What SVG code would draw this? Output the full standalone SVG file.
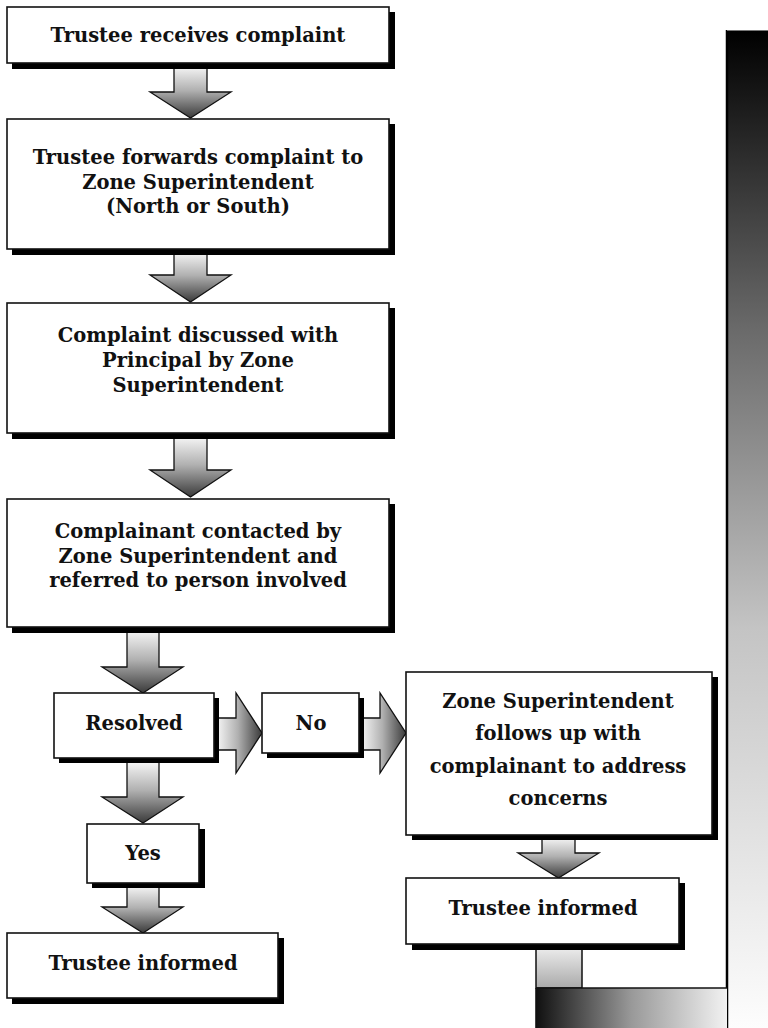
<svg xmlns="http://www.w3.org/2000/svg" width="768" height="1028" viewBox="0 0 768 1028">
<defs>
<linearGradient id="gDown" x1="0" y1="0" x2="0" y2="1">
<stop offset="0" stop-color="#ffffff"/>
<stop offset="0.5" stop-color="#b0b0b0"/>
<stop offset="1" stop-color="#3a3a3a"/>
</linearGradient>
<linearGradient id="gRight" x1="0" y1="0" x2="1" y2="0">
<stop offset="0" stop-color="#ffffff"/>
<stop offset="0.5" stop-color="#b0b0b0"/>
<stop offset="1" stop-color="#3a3a3a"/>
</linearGradient>
<linearGradient id="gBar" x1="0" y1="0" x2="0" y2="1">
<stop offset="0" stop-color="#000000"/>
<stop offset="0.3" stop-color="#6a6a6a"/>
<stop offset="0.6" stop-color="#c4c4c4"/>
<stop offset="1" stop-color="#fdfdfd"/>
</linearGradient>
<linearGradient id="gBottom" x1="0" y1="0" x2="1" y2="0">
<stop offset="0" stop-color="#101010"/>
<stop offset="0.5" stop-color="#999999"/>
<stop offset="1" stop-color="#f2f2f2"/>
</linearGradient>
<linearGradient id="gStub" x1="0" y1="0" x2="0" y2="1">
<stop offset="0" stop-color="#f2f2f2"/>
<stop offset="1" stop-color="#aaaaaa"/>
</linearGradient>
</defs>
<style>
.box{fill:#ffffff;stroke:#111111;stroke-width:1.6}
.shadow{fill:#000000}
.arrD{fill:url(#gDown);stroke:#111111;stroke-width:1.3;stroke-linejoin:miter}
.arrR{fill:url(#gRight);stroke:#111111;stroke-width:1.3;stroke-linejoin:miter}
.t{font-family:"DejaVu Serif","Liberation Serif",serif;font-weight:bold;font-size:19.5px;fill:#111111;text-anchor:middle}
</style>

<g id="decor">
<rect x="727" y="30" width="41" height="998" fill="url(#gBar)"/>
<line x1="727" y1="30" x2="727" y2="1028" stroke="#000" stroke-width="2.5"/>
<line x1="727" y1="30.5" x2="768" y2="30.5" stroke="#777" stroke-width="1"/>
<rect x="536" y="944" width="46" height="44" fill="url(#gStub)" stroke="#111" stroke-width="1.5"/>
<rect x="536" y="988" width="191" height="40" fill="url(#gBottom)"/>
<line x1="536" y1="988" x2="727" y2="988" stroke="#111" stroke-width="1.6"/>
<line x1="536" y1="988" x2="536" y2="1028" stroke="#111" stroke-width="1.6"/>
</g>

<g id="connectors">
<path class="arrD" d="M174,63 L207,63 L207,92 L231,92 L190.5,118 L150,92 L174,92 Z"/>
<path class="arrD" d="M174,249 L207,249 L207,275 L231,275 L190.5,302 L150,275 L174,275 Z"/>
<path class="arrD" d="M174,433 L207,433 L207,470 L231,470 L190.5,497 L150,470 L174,470 Z"/>
<path class="arrD" d="M127,627 L159,627 L159,667 L183,667 L143,693 L102,667 L127,667 Z"/>
<path class="arrD" d="M127,758 L159,758 L159,797 L183,797 L143,823 L102,797 L127,797 Z"/>
<path class="arrD" d="M127,883 L159,883 L159,907 L183,907 L143,933 L102,907 L127,907 Z"/>
<path class="arrD" d="M542,835 L575,835 L575,853 L599,853 L558.5,878 L518,853 L542,853 Z"/>
<path class="arrR" d="M214,718 L236,718 L236,693 L262,733 L236,773 L236,750 L214,750 Z"/>
<path class="arrR" d="M359,718 L380,718 L380,693 L406,733 L380,773 L380,750 L359,750 Z"/>
</g>

<g id="n1">
<rect class="shadow" x="12" y="12" width="383" height="57"/>
<rect class="box" x="7" y="7" width="382" height="56"/>
<text class="t" x="198" y="42">Trustee receives complaint</text>
</g>

<g id="n2">
<rect class="shadow" x="12" y="124" width="383" height="131"/>
<rect class="box" x="7" y="119" width="382" height="130"/>
<text class="t" x="198" y="164">Trustee forwards complaint to</text>
<text class="t" x="198" y="189">Zone Superintendent</text>
<text class="t" x="198" y="213">(North or South)</text>
</g>

<g id="n3">
<rect class="shadow" x="12" y="308" width="383" height="131"/>
<rect class="box" x="7" y="303" width="382" height="130"/>
<text class="t" x="198" y="342">Complaint discussed with</text>
<text class="t" x="198" y="367">Principal by Zone</text>
<text class="t" x="198" y="392">Superintendent</text>
</g>

<g id="n4">
<rect class="shadow" x="12" y="504" width="383" height="129"/>
<rect class="box" x="7" y="499" width="382" height="128"/>
<text class="t" x="198" y="538">Complainant contacted by</text>
<text class="t" x="198" y="563">Zone Superintendent and</text>
<text class="t" x="198" y="587">referred to person involved</text>
</g>

<g id="resolved">
<rect class="shadow" x="59" y="698" width="160" height="65"/>
<rect class="box" x="54" y="693" width="160" height="65"/>
<text class="t" x="134" y="730">Resolved</text>
</g>

<g id="no">
<rect class="shadow" x="267" y="698" width="97" height="60"/>
<rect class="box" x="262" y="693" width="97" height="60"/>
<text class="t" x="311" y="730">No</text>
</g>

<g id="followup">
<rect class="shadow" x="412" y="677" width="306" height="163"/>
<rect class="box" x="406" y="672" width="306" height="163"/>
<text class="t" x="558" y="708">Zone Superintendent</text>
<text class="t" x="558" y="740">follows up with</text>
<text class="t" x="558" y="773">complainant to address</text>
<text class="t" x="558" y="805">concerns</text>
</g>

<g id="informed-right">
<rect class="shadow" x="412" y="883" width="273" height="67"/>
<rect class="box" x="406" y="878" width="273" height="66"/>
<text class="t" x="543" y="915">Trustee informed</text>
</g>

<g id="yes">
<rect class="shadow" x="92" y="829" width="113" height="59"/>
<rect class="box" x="87" y="824" width="112" height="59"/>
<text class="t" x="143" y="860">Yes</text>
</g>

<g id="informed-left">
<rect class="shadow" x="12" y="938" width="272" height="66"/>
<rect class="box" x="7" y="933" width="271" height="65"/>
<text class="t" x="143" y="970">Trustee informed</text>
</g>
</svg>
